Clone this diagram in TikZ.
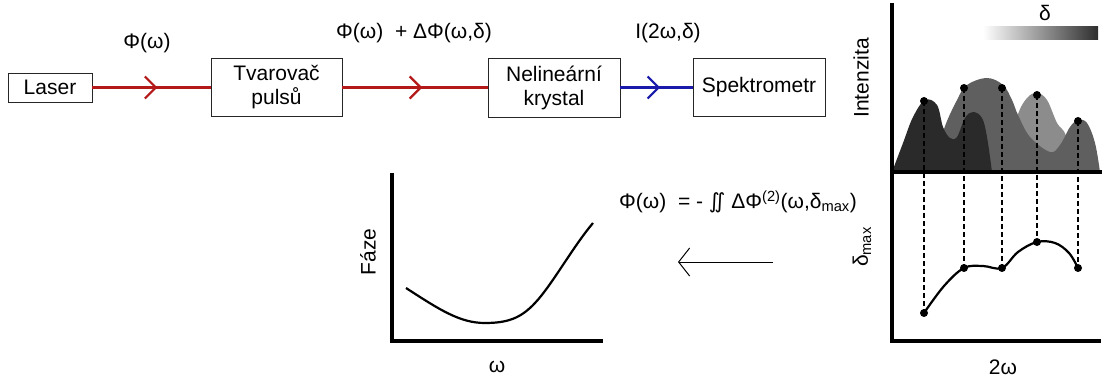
\documentclass[tikz,border=0pt]{standalone}
\usepackage{fontspec}
\setmainfont{Liberation Sans}
\newfontfamily\symfont{DejaVu Sans}
\usetikzlibrary{arrows.meta,decorations.markings,positioning}
\definecolor{beamred}{RGB}{180,25,25}
\definecolor{beamblue}{RGB}{25,25,170}
\definecolor{peakdark}{RGB}{42,42,42}
\definecolor{peakmid}{RGB}{95,95,95}
\definecolor{peaklight}{RGB}{140,140,140}

\begin{document}
\begin{tikzpicture}[x=1pt, y=-1pt,
  font=\fontsize{21}{24}\selectfont,
  stage/.style={draw=black!85, line width=0.9pt, align=center, inner sep=0pt},
  beam/.style={line width=2.2pt, postaction={decorate},
    decoration={markings, mark=at position 0.55 with
      {\arrow{Straight Barb[length=11pt,width=22pt]}}}},
  plotaxis/.style={line width=4pt, line join=miter},
  trace/.style={line width=2.2pt},
  guide/.style={line width=2pt, dash pattern=on 5pt off 3pt},
  dot/.style={circle, fill=black, inner sep=0pt, minimum size=8pt}]

\useasboundingbox (0,0) rectangle (1105,382);

% ── Optical chain ────────────────────────────────────────────────────────────
\node[stage, minimum width=84pt, minimum height=29pt] (laser) at (50,87.5) {Laser};
\node[stage, minimum width=131pt, minimum height=58pt] (shaper) at (276.5,87.5) {Tvarovač\\pulsů};
\node[stage, minimum width=132pt, minimum height=59pt] (crystal) at (554,87.5) {Nelineární\\krystal};
\node[stage, minimum width=132pt, minimum height=58pt] (spectro) at (759,87.5) {Spektrometr};

\draw[beam, beamred] (laser.east) -- (shaper.west);
\draw[beam, beamred] (shaper.east) -- (crystal.west);
\draw[beam, beamblue] (crystal.east) -- (spectro.west);

\node (phiin) at (147,43) {Φ(ω)};
\node (phimod) at (414,33) {Φ(ω)~~+ ΔΦ(ω,δ)};
\node (signal) at (668,33) {I(2ω,δ)};

% ── Measured spectra (upper right) ───────────────────────────────────────────
\fill[peaklight] plot[smooth, tension=0.6] coordinates
  {(1005,165) (1017,117) (1027,98) (1037,93) (1047,100) (1057,123) (1066,136) (1072,172)} -- cycle;
\fill[peakmid] plot[smooth, tension=0.6] coordinates
  {(935,172) (943,132) (957,100) (967,85) (987,78) (1003,85) (1012,100) (1018,115)
   (1030,137) (1050,152) (1060,145) (1070,127) (1078,120) (1087,123) (1095,143) (1100,172)} -- cycle;
\fill[peakdark] plot[smooth, tension=0.6] coordinates
  {(892,172) (903,143) (913,117) (925,100) (937,105) (943,127) (950,138) (957,137)
   (965,118) (973,112) (982,118) (987,137) (992,172)} -- cycle;

% delta scale bar
\shade[left color=white, right color=black!82] (983,27) rectangle (1098,40);
\node (delta) at (1045,13) {δ};

% axes
\draw[plotaxis] (892,3) -- (892,341) -- (1101,341);
\draw[plotaxis] (892,172) -- (1102,172);
\node[rotate=90] (intlabel) at (861,78) {Intenzita};
\node[rotate=90] (dmaxlabel) at (862,247) {δ\textsubscript{max}};
\node (twow) at (1003,367) {2ω};

% peak maxima and their delta positions
\foreach \n/\x/\ytop/\ybot in {1/924/101/313, 2/964/88/268, 3/1002/88/268, 4/1037/95/242, 5/1078/121/268}{
  \coordinate (p\n) at (\x,\ytop);
  \coordinate (q\n) at (\x,\ybot);
  \draw[guide] (p\n) -- (q\n);
}
\draw[trace] plot[smooth, tension=0.6] coordinates
  {(924,313) (944,286) (964,268) (983,266) (1002,268) (1018,252) (1037,242) (1055,243) (1069,253) (1078,268)};
\foreach \n in {1,...,5}{
  \node[dot] at (p\n) {};
  \node[dot] at (q\n) {};
}

% ── Retrieved phase (lower middle) ───────────────────────────────────────────
\node (retrieve) at (738,202) {Φ(ω)~~= -~{\symfont ∬}~ΔΦ\textsuperscript{(2)}(ω,δ\textsubscript{max})};
\coordinate (backstart) at (773,262);
\coordinate (backend) at (678,262);
\draw[line width=1pt, -{Straight Barb[length=11pt,width=28pt]}] (backstart) -- (backend);

\draw[plotaxis] (392,173) -- (392,341) -- (603,341);
\draw[trace] (406,288) .. controls (440,310) and (460,323) .. (485,323)
  .. controls (508,323) and (521,318) .. (535,303)
  .. controls (552,285) and (572,248) .. (593,223);
\node[rotate=90] (phaselabel) at (368,252) {Fáze};
\node (omega) at (497,367) {ω};

\end{tikzpicture}
\end{document}
